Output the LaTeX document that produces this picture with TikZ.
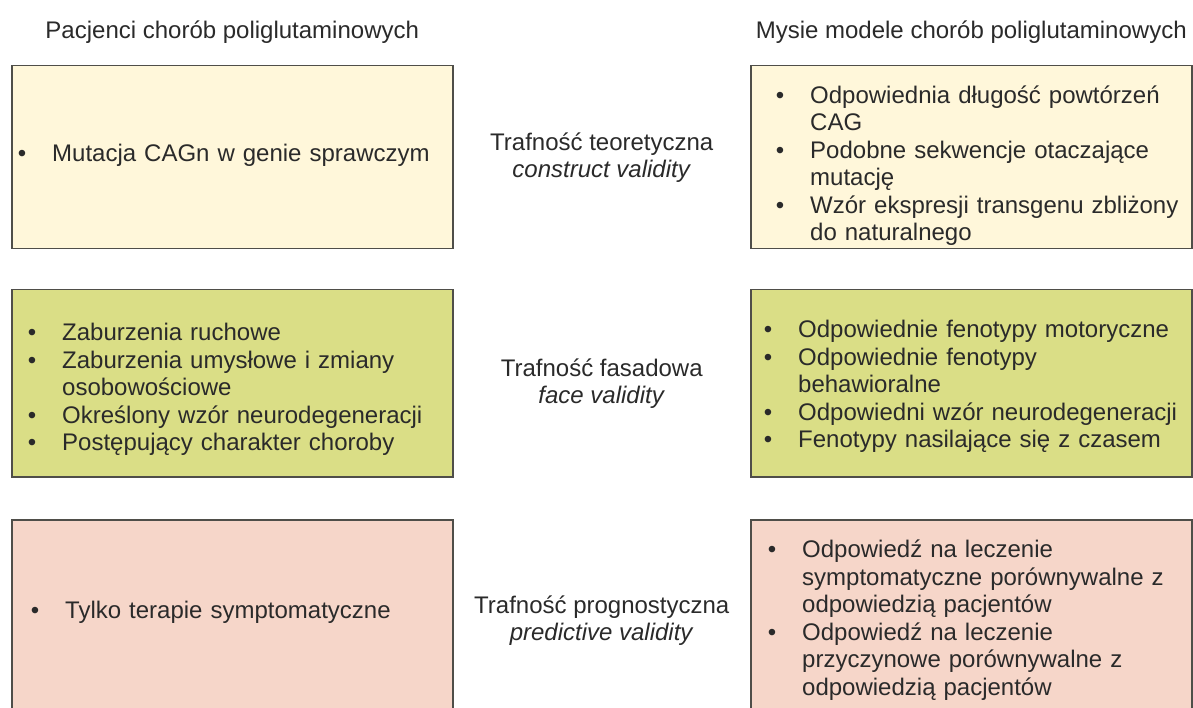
\documentclass[tikz,border=0pt]{standalone}
\usepackage{fontspec}
\setmainfont{Liberation Sans}
\usepackage{xcolor}
\usepackage{tikz}
\usetikzlibrary{positioning,calc}
\definecolor{ink}{HTML}{2A2A2A}
\definecolor{boxline}{HTML}{4F4E49}
\definecolor{paleyel}{HTML}{FFF7DA}
\definecolor{olive}{HTML}{DADE86}
\definecolor{blush}{HTML}{F6D6C9}
\newenvironment{bullets}{\begin{list}{\textbullet}{%
    \setlength\labelwidth{10pt}\setlength\labelsep{26pt}%
    \setlength\leftmargin{36pt}\setlength\itemsep{0pt}%
    \setlength\parsep{0pt}\setlength\topsep{0pt}\setlength\partopsep{0pt}}}%
  {\end{list}}
\tikzset{
  panel/.style ={draw=boxline,line width=1.5pt,minimum width=441pt,
                 anchor=north west,inner sep=0pt},
  lst/.style   ={anchor=west,inner sep=0pt,text width=420pt,text=ink,
                 font=\fontsize{24}{27.5}\selectfont},
  mid/.style   ={align=center,inner sep=0pt,text=ink,
                 font=\fontsize{24}{27}\selectfont},
  head/.style  ={inner sep=0pt,text=ink,font=\fontsize{24}{27}\selectfont}
}

\begin{document}
\begin{tikzpicture}[x=1pt,y=-1pt]
    \fill[white] (0,0) rectangle (1193,708);
    \useasboundingbox (0,0) rectangle (1193,708);
    \coordinate (top) at (0,32);
    % boxes
    \node[panel,fill=paleyel,minimum height=183pt] (pl1) at (11,65) {};
    \node[panel,fill=paleyel,minimum height=183pt] (ml1) at (750,65) {};
    \node[panel,fill=olive,minimum height=187pt] (pl2) at (11,289) {};
    \node[panel,fill=olive,minimum height=187pt] (ml2) at (750,289) {};
    \node[panel,fill=blush,minimum height=193pt] (pl3) at (11,519) {};
    \node[panel,fill=blush,minimum height=193pt] (ml3) at (750,519) {};
    % headers
    \node[head] (hp) at (pl1.north |- top) {Pacjenci chorób poliglutaminowych};
    \node[head] (hm) at (ml1.north |- top) {Mysie modele chorób poliglutaminowych};
    % patients
    \node[lst] (tp1) at ([xshift=5pt,yshift=7.5pt]pl1.west) {\begin{bullets}
      \item Mutacja CAGn w genie sprawczym
    \end{bullets}};
    \node[lst] (tp2) at ([xshift=15pt,yshift=-1.5pt]pl2.west) {\begin{bullets}
      \item Zaburzenia ruchowe
      \item Zaburzenia umysłowe i zmiany\\osobowościowe
      \item Określony wzór neurodegeneracji
      \item Postępujący charakter choroby
    \end{bullets}};
    \node[lst] (tp3) at ([xshift=18pt,yshift=9.5pt]pl3.west) {\begin{bullets}
      \item Tylko terapie symptomatyczne
    \end{bullets}};
    % mouse models
    \node[lst] (tm1) at ([xshift=24pt,yshift=-3.5pt]ml1.west) {\begin{bullets}
      \item Odpowiednia długość powtórzeń\\CAG
      \item Podobne sekwencje otaczające\\mutację
      \item Wzór ekspresji transgenu zbliżony\\do naturalnego
    \end{bullets}};
    \node[lst] (tm2) at ([xshift=12pt,yshift=1.5pt]ml2.west) {\begin{bullets}
      \item Odpowiednie fenotypy motoryczne
      \item Odpowiednie fenotypy\\behawioralne
      \item Odpowiedni wzór neurodegeneracji
      \item Fenotypy nasilające się z czasem
    \end{bullets}};
    \node[lst] (tm3) at ([xshift=16pt,yshift=1pt]ml3.west) {\begin{bullets}
      \item Odpowiedź na leczenie\\symptomatyczne porównywalne z\\odpowiedzią pacjentów
      \item Odpowiedź na leczenie\\przyczynowe porównywalne z\\odpowiedzią pacjentów
    \end{bullets}};
    % validity labels
    \node[mid] (v1) at ($(pl1.east)!0.5!(ml1.west)$) {Trafność teoretyczna\\\textit{construct validity}};
    \node[mid] (v2) at ($(pl2.east)!0.5!(ml2.west)$) {Trafność fasadowa\\\textit{face validity}};
    \node[mid] (v3) at ($(pl3.east)!0.5!(ml3.west)+(0,4)$) {Trafność prognostyczna\\\textit{predictive validity}};
  \end{tikzpicture}
\end{document}
